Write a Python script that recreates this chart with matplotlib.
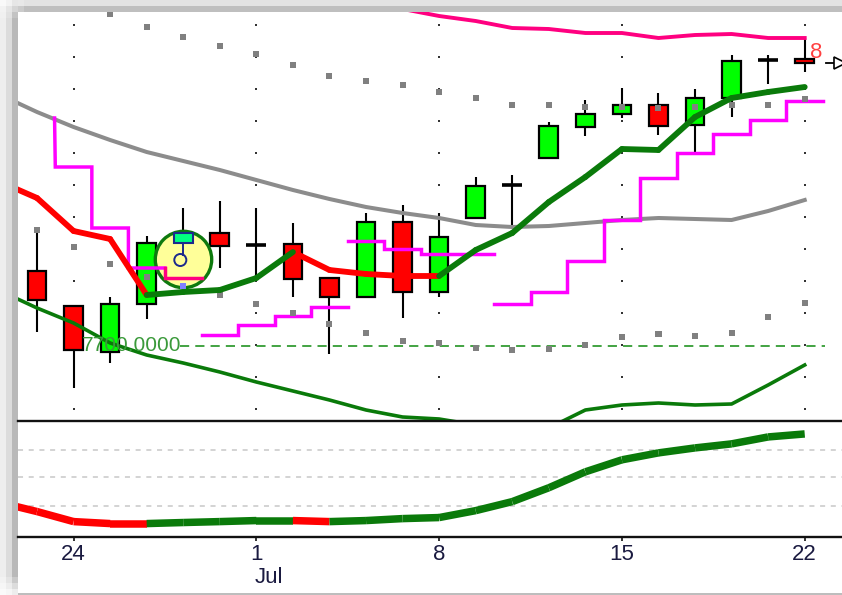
import numpy as np
import matplotlib
matplotlib.use("Agg")
import matplotlib.pyplot as plt

plt.rcParams['font.family'] = ['Liberation Sans', 'DejaVu Sans']

W, H = 842, 595

# ---------- data ----------
bar_index = list(range(22))
tick_index = [1, 6, 11, 16, 21]
tick_labels = ["24", "1", "8", "15", "22"]

body_top = [7775, 7740, 7742, 7803, 7813, 7813, 7801, 7802, 7768, 7824, 7824,
            7809, 7860, 7861, 7920, 7932, 7941, 7941, 7948, 7985, 7986, 7987]
body_bot = [7746, 7696, 7694, 7742, 7803, 7800, 7801, 7767, 7749, 7749, 7754,
            7754, 7828, 7861, 7888, 7919, 7932, 7920, 7921, 7948, 7986, 7983]
high = [7819, 7740, 7749, 7810, 7838, 7845, 7838, 7823, 7768, 7833, 7841,
        7833, 7869, 7871, 7924, 7946, 7958, 7953, 7957, 7991, 7991, 8008]
low = [7714, 7658, 7683, 7727, 7803, 7778, 7768, 7749, 7692, 7749, 7728,
       7749, 7828, 7820, 7888, 7910, 7928, 7911, 7894, 7929, 7962, 7974]
body_kind = ["r", "r", "g", "g", "s", "r", "d", "r", "r", "g", "r",
             "g", "g", "d", "g", "g", "g", "r", "g", "g", "d", "r"]

ma_index = list(range(-1, 22))
fast_ma = [7864, 7848, 7815, 7807, 7751, 7754, 7756, 7768, 7794, 7776, 7772, 7770,
           7770, 7796, 7813, 7844, 7869, 7897, 7896, 7929, 7948, 7954, 7959]
fast_ma_is_red = [1, 1, 1, 1, 0, 0, 0, 0, 1, 1, 1, 1, 0, 0, 0, 0, 0, 0, 0, 0, 0, 0]
mid_ma = [7951, 7934, 7919, 7906, 7894, 7885, 7876, 7866, 7856, 7847, 7839, 7833,
          7828, 7821, 7819, 7820, 7823, 7826, 7828, 7827, 7826, 7835, 7846]
lower_band = [7755, 7738, 7723, 7703, 7691, 7683, 7674, 7664, 7655, 7646, 7636, 7629,
              7627, 7621, 7616, 7618, 7636, 7641, 7643, 7641, 7642, 7661, 7681]

upper_index = list(range(10, 22))
upper_band = [8037, 8030, 8025, 8018, 8017, 8013, 8013, 8008, 8011, 8012, 8008, 8008]

dots_hi_index = list(range(2, 22))
dots_hi = [8032, 8019, 8009, 8000, 7992, 7981, 7970, 7965, 7961, 7954, 7948, 7941,
           7941, 7939, 7939, 7938, 7939, 7941, 7941, 7947]
dots_lo = [7816, 7799, 7782, 7769, 7760, 7751, 7742, 7733, 7722, 7713, 7705, 7703,
           7698, 7696, 7697, 7701, 7709, 7712, 7710, 7713, 7729, 7743]
grid_prices = [8021, 7989, 7957, 7925, 7893, 7861, 7829, 7797, 7765, 7733, 7701, 7669, 7637]

step1_index = [1, 2, 3]
step1 = [7879, 7818, 7778]
step1_start = 7928
step1b_index = [4]
step1b = [7768]
step2_index = [5, 6, 7, 8]
step2 = [7711, 7721, 7730, 7739]
step3_index = [9, 10, 11, 12]
step3 = [7805, 7797, 7792, 7792]
step4_index = [13, 14, 15, 16, 17, 18, 19, 20, 21]
step4 = [7742, 7754, 7785, 7826, 7868, 7893, 7912, 7926, 7945]

level_price = 7700
level_label = "7700.0000"
osc = [29.3, 21.6, 12.9, 11.2, 11.2, 12.1, 12.9, 13.8, 13.8, 12.9, 13.8, 15.5,
       16.4, 22.4, 30.2, 42.2, 56.0, 66.4, 72.4, 76.7, 80.2, 86.2, 88.8]
osc_is_red = [1, 1, 1, 1, 0, 0, 0, 0, 1, 0, 0, 0, 0, 0, 0, 0, 0, 0, 0, 0, 0, 0]
osc_levels = [75, 51.5, 26]

# ---------- figure and window frame ----------
fig = plt.figure(figsize=(W / 100, H / 100), dpi=100, facecolor='white')

bg = np.full((H, W), 255.0)
left_cols = [0xEE, 0xDC, 0xB9]
top_rows = [0xE3, 0xBF]
for k, v in enumerate(left_cols):
    col = np.full(H, 255.0 - v)
    for s in range(3):
        col[s * 6:(s + 1) * 6] *= (s + 1) / 4 + 0.1
    for s in range(3):
        col[H - 18 + s * 6:H - 18 + (s + 1) * 6] *= (3 - s) / 4
    bg[:, k * 6:(k + 1) * 6] = (255 - col)[:, None]
for k, v in enumerate(top_rows):
    row = np.full(W, 255.0 - v)
    for s in range(4):
        row[s * 6:(s + 1) * 6] *= (s + 1) / 5
    band = 255 - row
    y0, y1 = k * 6, (k + 1) * 6
    bg[y0:y1, :] = np.minimum(bg[y0:y1, :], band)
bg[593:595, 18:] = 0xBD
fig.figimage(np.dstack([bg, bg, bg]) / 255, 0, 0, origin='upper', zorder=-5, resize=False)

ax = fig.add_axes([18 / W, 1 - 421 / H, (W - 18) / W, 409 / H])
axo = fig.add_axes([18 / W, 1 - 536.5 / H, (W - 18) / W, 115.5 / H])
for a in (ax, axo):
    a.set_facecolor('none')
    a.set_xlim(-0.52, 22.02)
ax.set_ylim(7625, 8034)
axo.set_ylim(0, 100)

# ---------- grid dots ----------
for t in tick_index:
    ax.scatter([t] * len(grid_prices), grid_prices, marker='s', s=3.5, color='#333333',
               linewidths=0, zorder=1)

# ---------- candles ----------
colors = {"r": "#FF0000", "g": "#00FF00", "s": "#00FF80"}
ax.vlines(bar_index, low, high, color='black', lw=1.5, zorder=2)
for i, kind in enumerate(body_kind):
    if kind == "d":
        ax.hlines(body_top[i], i - 0.27, i + 0.27, color='black', lw=2.6, zorder=3)
    elif kind == "s":
        continue
    else:
        ax.bar(i, body_top[i] - body_bot[i], bottom=body_bot[i], width=0.51,
               color=colors[kind], edgecolor='black', lw=1.6, zorder=3)

# ---------- annotation circle ----------
ax.scatter([4], [7787], s=1650, facecolor='#FFFF99', edgecolor='#0E7A0E', lw=2.4, zorder=4)
ax.bar(4, body_top[4] - body_bot[4], bottom=body_bot[4], width=0.51,
       color=colors["s"], edgecolor='#1C2A8C', lw=1.5, zorder=5)
ax.plot([4, 4], [7803, 7791], color='#1C2A8C', lw=1.4, zorder=5)
ax.scatter([3.92], [7786], s=75, facecolor='none', edgecolor='#1C2A8C', lw=1.4, zorder=5)

# ---------- moving averages ----------
ma_x = np.array(ma_index)
ax.plot(ma_x, mid_ma, color='#8C8C8C', lw=2.9, zorder=5)
ax.plot(ma_x, lower_band, color='#0A7A0A', lw=2.6, zorder=5)
ax.plot(upper_index, upper_band, color='#FF0080', lw=2.8, zorder=5)


def steps(idx, vals, start=None):
    xs, ys = [], []
    if start is not None:
        xs.append(idx[0] - 0.52)
        ys.append(start)
    for i, v in zip(idx, vals):
        xs += [i - 0.5, i + 0.5]
        ys += [v, v]
    return xs, ys


for idx, vals, st, c in [(step1_index, step1, step1_start, '#FF00FF'),
                         (step2_index, step2, None, '#FF00FF'),
                         (step3_index, step3, None, '#FF00FF'),
                         (step4_index, step4, None, '#FF00FF')]:
    xs, ys = steps(idx, vals, st)
    ax.plot(xs, ys, color=c, lw=2.5, solid_joinstyle='miter', zorder=6)
xs, ys = steps(step1b_index, step1b)
ax.plot([3.5, 3.5] + xs, [step1[-1], step1b[0]] + ys, color='#FF0080', lw=2.5,
        solid_joinstyle='miter', zorder=6)

# ---------- SAR-like dots ----------
ax.scatter(dots_hi_index, dots_hi, marker='s', s=19, color='#808080', linewidths=0, zorder=6)
lo_colors = ['#8080FF' if i == 4 else '#808080' for i in bar_index]
ax.scatter(bar_index, dots_lo, marker='s', s=19, c=lo_colors, linewidths=0, zorder=6)

for k, red in enumerate(fast_ma_is_red):
    ax.plot(ma_x[k:k + 2], fast_ma[k:k + 2], color='#FF0000' if red else '#0A7A0A',
            lw=4.2, solid_capstyle='round', zorder=7 if not red else 6.5)

# ---------- level line and text ----------
ax.hlines(level_price, 3.91, 21.55, color='#0F8A0F', lw=1.1, linestyles=(0, (6, 4)), zorder=2)
ax.text(1.23, level_price, level_label, color='#3A9A3A', fontsize=15, va='center', ha='left', zorder=8)
ax.text(21.32, 7993, "8", color='#FF4040', fontsize=16, va='center', ha='center', zorder=8)
ax.plot([21.58, 21.83], [7983, 7983], color='black', lw=1.3, zorder=8)
ax.plot([21.96], [7983], marker='>', ms=9, mfc='white', mec='black', mew=1.2, zorder=8, clip_on=True)

ax.set_xticks([])
ax.set_yticks([])
for s in ax.spines.values():
    s.set_visible(False)

# ---------- oscillator panel ----------
for lv in osc_levels:
    axo.axhline(lv, color='#C8C8C8', lw=1.1, linestyle=(0, (3.3, 3.7)), zorder=1)
for k, red in enumerate(osc_is_red):
    axo.plot(ma_x[k:k + 2], osc[k:k + 2], color='#FF0000' if red else '#0A7A0A',
             lw=5.4, solid_capstyle='butt', zorder=3)
axo.set_yticks([])
axo.set_xticks(tick_index)
axo.set_xticklabels(tick_labels, fontsize=16, color='#1A1A40')
axo.tick_params(axis='x', length=3.2, width=1.3, pad=2.5, color='#222222')
for name, s in axo.spines.items():
    s.set_visible(name in ('top', 'bottom'))
    s.set_linewidth(1.7)
    s.set_color('#111111')
axo.annotate("Jul", xy=(6.34, 0), xycoords=('data', 'axes fraction'), xytext=(0, -29.5),
             textcoords='offset points', ha='center', va='center', fontsize=16,
             color='#1A1A40', annotation_clip=False)

fig.savefig("out.png", dpi=100)
